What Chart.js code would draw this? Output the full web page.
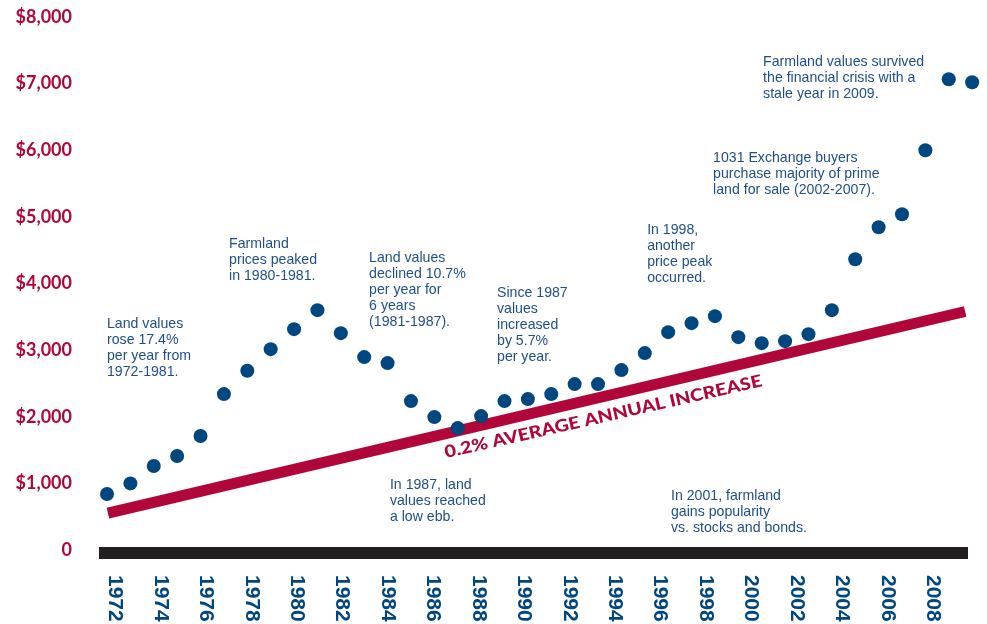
<!DOCTYPE html>
<html>
<head>
<meta charset="utf-8">
<script src="https://cdn.jsdelivr.net/npm/chart.js@4.4.1/dist/chart.umd.min.js"></script>
<style>
  html, body { margin: 0; padding: 0; background: #fff; }
  #wrap { width: 987px; height: 624px; }
</style>
</head>
<body>
<div id="wrap"><canvas id="landChart"></canvas></div>
<script>
// farmland value per acre
const years = [1972, 1973, 1974, 1975, 1976, 1977, 1978, 1979, 1980, 1981,
               1982, 1983, 1984, 1985, 1986, 1987, 1988, 1989, 1990, 1991,
               1992, 1993, 1994, 1995, 1996, 1997, 1998, 1999, 2000, 2001,
               2002, 2003, 2004, 2005, 2006, 2007, 2008, 2009];
const landValues = [840, 1000, 1260, 1410, 1710, 2340, 2690, 3015, 3315, 3600,
                    3255, 2895, 2805, 2235, 1995, 1830, 2010, 2235, 2265, 2340,
                    2490, 2490, 2700, 2955, 3270, 3405, 3510, 3195, 3105, 3135,
                    3240, 3600, 4365, 4845, 5040, 6000, 7065, 7020];
const yearLabels = [1972, 1974, 1976, 1978, 1980, 1982, 1984, 1986, 1988, 1990,
                    1992, 1994, 1996, 1998, 2000, 2002, 2004, 2006, 2008];
const valueTicks = [0, 1000, 2000, 3000, 4000, 5000, 6000, 7000, 8000];
const trendYears = [1972.04, 2008.7];
const trendValues = [555, 3580];
const trendLabel = '0.2% AVERAGE ANNUAL INCREASE';

const NAVY = '#00467f';
const NOTE_BLUE = '#1f4e89';
const CRIMSON = '#b1063a';

// text notes, anchored in data units (year, value of first line)
const notes = [
  { x: 1972.0, y: 3392, lines: ['Land values', 'rose 17.4%', 'per year from', '1972-1981.'] },
  { x: 1977.22, y: 4590, lines: ['Farmland', 'prices peaked', 'in 1980-1981.'] },
  { x: 1983.21, y: 4380, lines: ['Land values', 'declined 10.7%', 'per year for', '6 years', '(1981-1987).'] },
  { x: 1988.68, y: 3855, lines: ['Since 1987', 'values', 'increased', 'by 5.7%', 'per year.'] },
  { x: 1995.10, y: 4800, lines: ['In 1998,', 'another', 'price peak', 'occurred.'] },
  { x: 1997.92, y: 5880, lines: ['1031 Exchange buyers', 'purchase majority of prime', 'land for sale (2002-2007).'] },
  { x: 2000.06, y: 7320, lines: ['Farmland values survived', 'the financial crisis with a', 'stale year in 2009.'] },
  { x: 1984.10, y: 975, lines: ['In 1987, land', 'values reached', 'a low ebb.'] },
  { x: 1996.12, y: 810, lines: ['In 2001, farmland', 'gains popularity', 'vs. stocks and bonds.'] }
];

const extrasPlugin = {
  id: 'extras',
  afterDraw(chart) {
    const ctx = chart.ctx;
    const xs = chart.scales.x;
    const xl = chart.scales.xLabels;
    const ys = chart.scales.y;

    // year labels, turned clockwise
    ctx.save();
    ctx.fillStyle = NAVY;
    ctx.font = 'bold 21px "Liberation Sans", Arial, sans-serif';
    ctx.textAlign = 'left';
    ctx.textBaseline = 'middle';
    yearLabels.forEach(yr => {
      ctx.save();
      ctx.translate(xl.getPixelForValue(yr), 575);
      ctx.rotate(Math.PI / 2);
      ctx.fillText(String(yr), 0, 0);
      ctx.restore();
    });
    ctx.restore();

    // notes
    ctx.save();
    ctx.fillStyle = NOTE_BLUE;
    ctx.font = '15px "Liberation Sans", Arial, sans-serif';
    ctx.textAlign = 'left';
    ctx.textBaseline = 'middle';
    const squeeze = 161 / ctx.measureText('Farmland values survived').width;
    notes.forEach(n => {
      const px = xs.getPixelForValue(n.x);
      const py = ys.getPixelForValue(n.y);
      n.lines.forEach((line, i) => {
        ctx.save();
        ctx.translate(px, py + i * 16);
        ctx.scale(squeeze, 1);
        ctx.fillText(line, 0, 0);
        ctx.restore();
      });
    });
    ctx.restore();

    // label under the trend line
    ctx.save();
    ctx.fillStyle = CRIMSON;
    ctx.font = '900 17px Lato, "Open Sans", sans-serif';
    ctx.textAlign = 'left';
    ctx.textBaseline = 'alphabetic';
    const tw = ctx.measureText(trendLabel).width;
    ctx.translate(xs.getPixelForValue(1986.5), ys.getPixelForValue(1380));
    ctx.rotate(-12.8 * Math.PI / 180);
    ctx.scale(325 / tw, 1);
    ctx.fillText(trendLabel, 0, 0);
    ctx.restore();
  }
};

new Chart(document.getElementById('landChart'), {
  type: 'scatter',
  data: {
    datasets: [
      {
        label: 'Land value',
        data: years.map((yr, i) => ({ x: yr, y: landValues[i] })),
        backgroundColor: NAVY,
        borderWidth: 0,
        pointRadius: 7,
        pointHoverRadius: 7,
        clip: false
      },
      {
        type: 'line',
        label: 'Trend',
        data: trendYears.map((yr, i) => ({ x: yr, y: trendValues[i] })),
        borderColor: CRIMSON,
        borderWidth: 11,
        borderCapStyle: 'butt',
        pointRadius: 0,
        fill: false,
        clip: false
      }
    ]
  },
  options: {
    responsive: true,
    maintainAspectRatio: false,
    animation: false,
    layout: { padding: { top: 17, right: 20, bottom: 71, left: 0 } },
    plugins: {
      legend: { display: false },
      tooltip: { enabled: false }
    },
    scales: {
      x: {
        type: 'linear',
        min: 1971.914,
        max: 2008.78,
        grid: { display: false, drawTicks: false },
        ticks: { display: false },
        border: { display: true, color: '#231f20', width: 12 },
        afterFit(scale) { scale.height = 0; }
      },
      xLabels: {
        type: 'linear',
        position: 'bottom',
        display: false,
        min: 1971.56,
        max: 2009.5
      },
      y: {
        min: -45,
        max: 8000,
        grid: { display: false, drawTicks: false },
        border: { display: false },
        afterBuildTicks(scale) { scale.ticks = valueTicks.map(v => ({ value: v })); },
        afterFit(scale) {
          scale.width = 105;
          scale.paddingTop = 0;
          scale.paddingBottom = 0;
        },
        ticks: {
          padding: 33,
          color: CRIMSON,
          font: { family: 'Lato', weight: 'bold', size: 18 },
          callback: v => v === 0 ? '0' : '$' + v.toLocaleString('en-US')
        }
      }
    }
  },
  plugins: [extrasPlugin]
});
</script>
</body>
</html>
